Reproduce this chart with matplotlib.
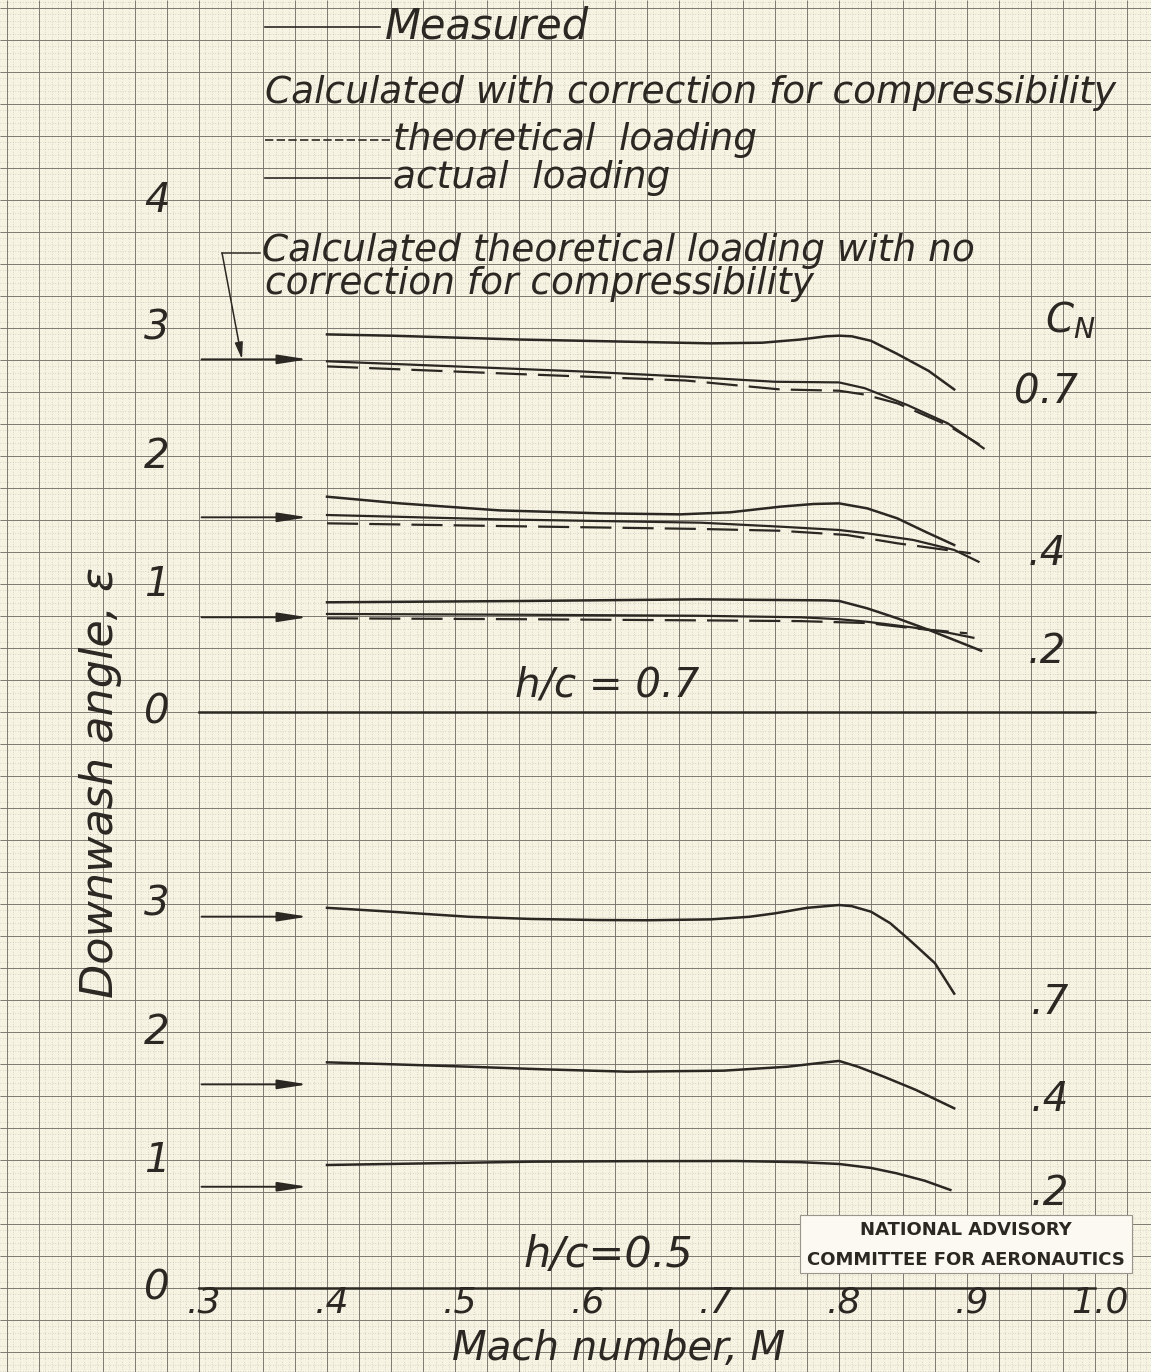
import numpy as np
import matplotlib.pyplot as plt
from matplotlib.patches import Rectangle

# ---- data (Mach number, downwash angle in degrees) ----
# h/c = 0.7, C_N = 0.7
up07_meas_m = [0.40, 0.45, 0.50, 0.55, 0.60, 0.65, 0.70, 0.74, 0.77, 0.79, 0.80, 0.81, 0.825, 0.845, 0.87, 0.89]
up07_meas_e = [2.95, 2.94, 2.925, 2.91, 2.90, 2.89, 2.88, 2.885, 2.91, 2.935, 2.94, 2.935, 2.90, 2.80, 2.665, 2.52]
up07_act_m = [0.40, 0.50, 0.55, 0.60, 0.68, 0.75, 0.80, 0.82, 0.853, 0.885, 0.913]
up07_act_e = [2.74, 2.70, 2.68, 2.66, 2.62, 2.58, 2.575, 2.53, 2.40, 2.255, 2.06]
up07_theo_m = [0.40, 0.55, 0.68, 0.754, 0.80, 0.82, 0.846, 0.885, 0.913]
up07_theo_e = [2.70, 2.64, 2.59, 2.52, 2.51, 2.48, 2.41, 2.24, 2.07]

# h/c = 0.7, C_N = 0.4
up04_meas_m = [0.40, 0.457, 0.535, 0.614, 0.676, 0.715, 0.754, 0.78, 0.80, 0.822, 0.8455, 0.869, 0.89]
up04_meas_e = [1.682, 1.63, 1.575, 1.552, 1.544, 1.56, 1.604, 1.625, 1.63, 1.591, 1.513, 1.401, 1.305]
up04_act_m = [0.40, 0.535, 0.692, 0.754, 0.80, 0.822, 0.858, 0.89, 0.909]
up04_act_e = [1.539, 1.505, 1.479, 1.448, 1.422, 1.396, 1.344, 1.266, 1.174]
up04_theo_m = [0.40, 0.535, 0.692, 0.754, 0.806, 0.8455, 0.903]
up04_theo_e = [1.474, 1.453, 1.43, 1.416, 1.383, 1.318, 1.24]

# h/c = 0.7, C_N = 0.2
up02_meas_m = [0.40, 0.55, 0.69, 0.79, 0.80, 0.822, 0.8455, 0.869, 0.89, 0.911]
up02_meas_e = [0.857, 0.867, 0.88, 0.872, 0.868, 0.81, 0.732, 0.646, 0.5625, 0.479]
up02_act_m = [0.40, 0.55, 0.69, 0.77, 0.80, 0.822, 0.858, 0.885, 0.905]
up02_act_e = [0.766, 0.76, 0.752, 0.74, 0.725, 0.705, 0.66, 0.62, 0.58]
up02_theo_m = [0.40, 0.55, 0.69, 0.77, 0.822, 0.858, 0.90]
up02_theo_e = [0.732, 0.725, 0.716, 0.71, 0.695, 0.654, 0.615]

# h/c = 0.5, measured only
lo07_m = [0.40, 0.45, 0.511, 0.56, 0.611, 0.65, 0.70, 0.73, 0.75, 0.775, 0.80, 0.81, 0.825, 0.84, 0.855, 0.875, 0.89]
lo07_e = [2.97, 2.94, 2.90, 2.883, 2.875, 2.873, 2.88, 2.90, 2.927, 2.97, 2.992, 2.983, 2.94, 2.85, 2.72, 2.537, 2.30]
lo04_m = [0.40, 0.45, 0.511, 0.57, 0.635, 0.71, 0.76, 0.785, 0.80, 0.815, 0.835, 0.86, 0.89]
lo04_e = [1.763, 1.748, 1.729, 1.708, 1.69, 1.698, 1.729, 1.758, 1.774, 1.728, 1.651, 1.548, 1.404]
lo02_m = [0.40, 0.48, 0.561, 0.64, 0.72, 0.77, 0.80, 0.825, 0.845, 0.867, 0.887]
lo02_e = [0.961, 0.974, 0.987, 0.991, 0.992, 0.983, 0.969, 0.938, 0.896, 0.838, 0.766]

# theoretical loading, no compressibility correction (arrows)
up_arrow_e = [2.755, 1.521, 0.74]
lo_arrow_e = [2.901, 1.591, 0.791]

cn_labels_up = ["0.7", ".4", ".2"]
cn_labels_lo = [".7", ".4", ".2"]
x_tick_vals = [0.3, 0.4, 0.5, 0.6, 0.7, 0.8, 0.9, 1.0]
x_tick_text = [".3", ".4", ".5", ".6", ".7", ".8", ".9", "1.0"]
up_y_ticks = [0, 1, 2, 3, 4]
lo_y_ticks = [0, 1, 2, 3]

# ---- page geometry (graph paper, pixels per unit) ----
W, H = 1151, 1372
PX, PY = 1280.0, 128.0           # px per Mach unit, px per degree
X0_PIX = 199                     # pixel of M = 0.3
UP_ZERO, LO_ZERO = 712, 1288     # pixel rows of the two zero lines

PAPER = "#f7f3e3"
INK = "#2b2823"
GRID = "#77726a"
GRID_MINOR = "#b3ad9f"

fig = plt.figure(figsize=(W / 100, H / 100), dpi=100)
fig.patch.set_facecolor(PAPER)

xlim = (0.3 - X0_PIX / PX, 0.3 + (W - X0_PIX) / PX)
ax_up = fig.add_axes([0, 0, 1, 1])
ax_lo = fig.add_axes([0, 0, 1, 1], label="lower")
ax_up.set_xlim(xlim)
ax_up.set_ylim((UP_ZERO - H) / PY, UP_ZERO / PY)
ax_lo.set_xlim(xlim)
ax_lo.set_ylim((LO_ZERO - H) / PY, LO_ZERO / PY)
for ax in (ax_up, ax_lo):
    ax.axis("off")
    ax.patch.set_alpha(0)

# graph paper
y0, y1 = ax_up.get_ylim()
minor_x = np.arange(0.15, 1.05, 0.005)
minor_y = np.arange(-5.2, 5.6, 0.05)
ax_up.vlines(minor_x, y0, y1, colors=GRID_MINOR, lw=0.45, linestyles=(0, (1, 3)), zorder=0)
ax_up.hlines(minor_y, xlim[0], xlim[1], colors=GRID_MINOR, lw=0.45, linestyles=(0, (1, 3)), zorder=0)
major_x = np.arange(0.15, 1.05, 0.025)
major_y = np.arange(-5.0, 5.6, 0.25)
ax_up.vlines(major_x, y0, y1, colors=GRID, lw=0.65, zorder=1)
ax_up.hlines(major_y, xlim[0], xlim[1], colors=GRID, lw=0.65, zorder=1)

# zero lines
ax_up.plot([0.3, 1.0], [0, 0], color=INK, lw=1.8, zorder=3)
ax_lo.plot([0.3, 1.0], [0, 0], color=INK, lw=1.8, zorder=3)

DASH = (0, (14, 5))
LW = 1.6

# upper panel curves
for m, e in [(up07_meas_m, up07_meas_e), (up04_meas_m, up04_meas_e), (up02_meas_m, up02_meas_e)]:
    ax_up.plot(m, e, color=INK, lw=LW + 0.2, zorder=4)
for m, e in [(up07_act_m, up07_act_e), (up04_act_m, up04_act_e), (up02_act_m, up02_act_e)]:
    ax_up.plot(m, e, color=INK, lw=LW, zorder=4)
for m, e in [(up07_theo_m, up07_theo_e), (up04_theo_m, up04_theo_e), (up02_theo_m, up02_theo_e)]:
    ax_up.plot(m, e, color=INK, lw=LW, linestyle=DASH, zorder=4)

# lower panel curves
for m, e in [(lo07_m, lo07_e), (lo04_m, lo04_e), (lo02_m, lo02_e)]:
    ax_lo.plot(m, e, color=INK, lw=LW + 0.2, zorder=4)

# arrows marking the incompressible theoretical values
ARROW_START, ARROW_END = 0.302, 0.385
arrow_style = dict(arrowstyle="-|>,head_length=0.9,head_width=0.14", color=INK,
                   lw=1.4, shrinkA=0, shrinkB=0, mutation_scale=20)
for ax, vals in [(ax_up, up_arrow_e), (ax_lo, lo_arrow_e)]:
    for v in vals:
        ax.annotate("", xy=(ARROW_END, v), xytext=(ARROW_START, v), arrowprops=arrow_style, zorder=4)

# leader from the note down to the C_N = 0.7 arrow
ax_up.plot([0.3477, 0.318], [3.586, 3.586], color=INK, lw=1.1)
ax_up.annotate("", xy=(0.3336, up_arrow_e[0]), xytext=(0.318, 3.586),
               arrowprops=dict(arrowstyle="-|>,head_length=0.5,head_width=0.12", color=INK,
                               lw=1.1, shrinkA=0, shrinkB=0, mutation_scale=20))

# hand lettering
hand = dict(family="DejaVu Sans", style="oblique", color=INK)
FS = 27
FT = 29  # tick and curve labels

# legend block
ax_up.plot([0.3516, 0.4414], [5.352, 5.352], color=INK, lw=1.2)
ax_up.text(0.4453, 5.352, "Measured", fontsize=FS + 3, va="center", ha="left", **hand)
ax_up.text(0.3516, 4.836, "Calculated with correction for compressibility", fontsize=FS,
           va="center", ha="left", **hand)
ax_up.plot([0.3516, 0.4492], [4.469, 4.469], color=INK, lw=1.2, linestyle=(0, (5, 2)))
ax_up.text(0.4516, 4.469, "theoretical  loading", fontsize=FS, va="center", ha="left", **hand)
ax_up.plot([0.3516, 0.4492], [4.172, 4.172], color=INK, lw=1.2)
ax_up.text(0.4516, 4.172, "actual  loading", fontsize=FS, va="center", ha="left", **hand)
ax_up.text(0.3492, 3.60, "Calculated theoretical loading with no", fontsize=FS,
           va="center", ha="left", **hand)
ax_up.text(0.3516, 3.34, "correction for compressibility", fontsize=FS,
           va="center", ha="left", **hand)

# C_N labels on the right
ax_up.text(0.9805, 3.06, "C$_N$", fontsize=FT, va="center", ha="center", **hand)
for lab, yv in zip(cn_labels_up, [2.50, 1.242, 0.469]):
    ax_up.text(0.962, yv, lab, fontsize=FT, va="center", ha="center", **hand)
for lab, yv in zip(cn_labels_lo, [2.227, 1.469, 0.742]):
    ax_lo.text(0.965, yv, lab, fontsize=FT, va="center", ha="center", **hand)

ax_up.text(0.61875, 0.211, "h/c = 0.7", fontsize=FT, va="center", ha="center", **hand)
ax_lo.text(0.62, 0.258, "h/c=0.5", fontsize=FT + 2, va="center", ha="center", **hand)

# y tick labels
for v in up_y_ticks:
    ax_up.text(0.2672, v, str(v), fontsize=FT, va="center", ha="center", **hand)
for v in lo_y_ticks:
    ax_lo.text(0.2672, v, str(v), fontsize=FT, va="center", ha="center", **hand)

# x tick labels
for v, lab in zip(x_tick_vals, x_tick_text):
    ax_lo.text(v + 0.004, -0.115, lab, fontsize=26, va="center", ha="center", **hand)

ax_lo.text(0.628, -0.47, "Mach number, M", fontsize=29, va="center", ha="center", **hand)
ax_up.text(0.2227, -0.547, "Downwash angle, \u03b5", fontsize=32, va="center", ha="center",
           rotation=90, **hand)

# NACA stamp
ax_lo.add_patch(Rectangle((0.7695, 0.117), 0.2594, 0.453, facecolor="#fbf9f1",
                          edgecolor="#9a958a", lw=0.8, zorder=5))
ax_lo.text(0.8992, 0.455, "NATIONAL ADVISORY", fontsize=13, fontweight="bold", color=INK,
           ha="center", va="center", zorder=6)
ax_lo.text(0.8992, 0.220, "COMMITTEE FOR AERONAUTICS", fontsize=13, fontweight="bold", color=INK,
           ha="center", va="center", zorder=6)

fig.savefig("out.png", dpi=100, facecolor=PAPER)
